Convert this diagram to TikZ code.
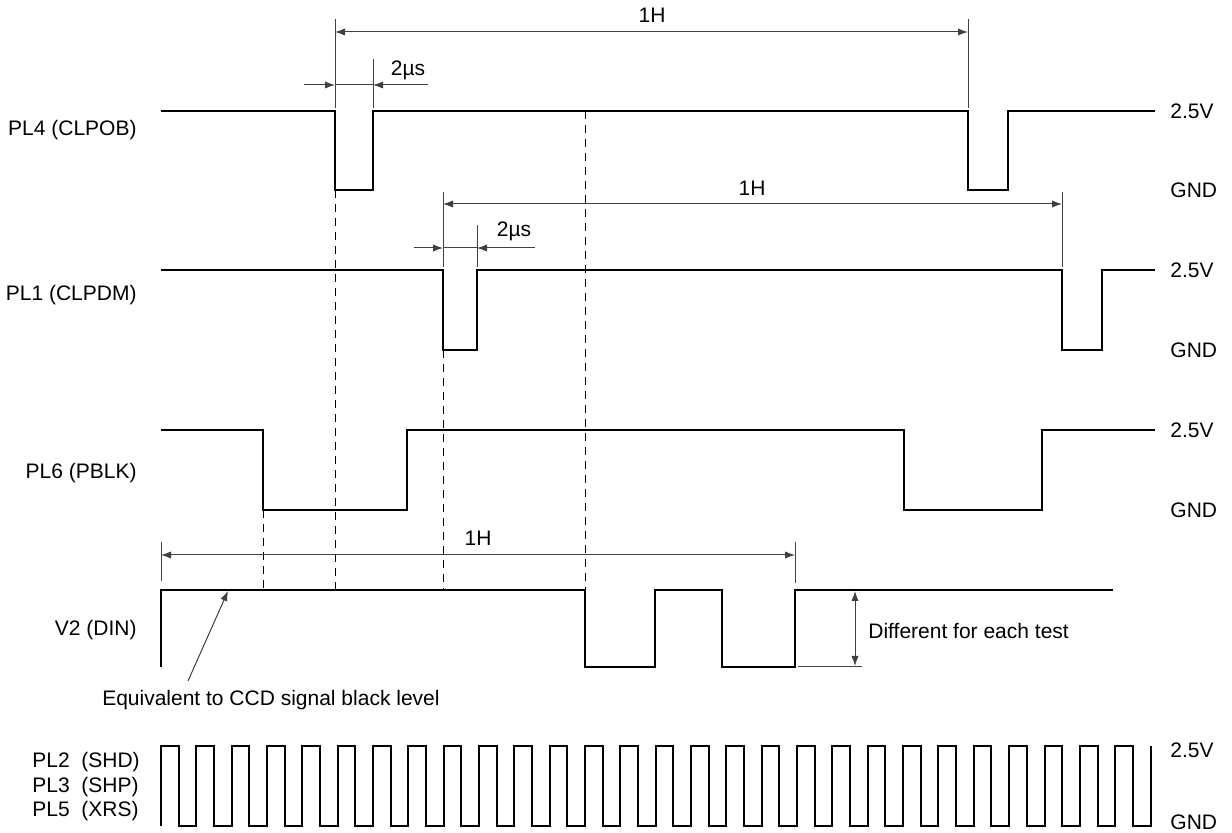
\documentclass[tikz,border=0pt]{standalone}
\usepackage{fontspec}
\setmainfont{Liberation Sans}
\usetikzlibrary{arrows.meta}
\begin{document}
\begin{tikzpicture}[x=0.5pt, y=-0.5pt, >={Latex[length=5pt,width=3.6pt]},
  sig/.style={line width=1pt, line join=miter},
  dim/.style={line width=0.5pt, black!75},
  guide/.style={line width=0.5pt, dash pattern=on 4pt off 3pt},
  lbl/.style={font=\fontsize{10.5}{12}\selectfont, inner sep=0pt}]
\useasboundingbox (0,0) rectangle (1232,833);

% signal names
\node[lbl, anchor=east] (npl4) at (137,130) {PL4 (CLPOB)};
\node[lbl, anchor=east] (npl1) at (137,295) {PL1 (CLPDM)};
\node[lbl, anchor=east] (npl6) at (137,473) {PL6 (PBLK)};
\node[lbl, anchor=east] (nv2) at (137,630) {V2 (DIN)};
\node[lbl, anchor=west] (npl2) at (32,762) {PL2\ \ (SHD)};
\node[lbl, anchor=west] (npl3) at (32,787) {PL3\ \ (SHP)};
\node[lbl, anchor=west] (npl5) at (32,811) {PL5\ \ (XRS)};

% levels
\foreach \y/\n in {111/a, 270/b, 430/c, 750/d}
  \node[lbl, anchor=west] (hi\n) at (1170,\y) {2.5V};
\foreach \y/\n in {190/a, 350/b, 510/c, 822/d}
  \node[lbl, anchor=west] (lo\n) at (1170,\y) {GND};

% waveforms
\draw[sig] (161,111) -- (335,111) -- (335,190) -- (373,190) -- (373,111)
  -- (968,111) -- (968,190) -- (1008,190) -- (1008,111) -- (1155,111);
\draw[sig] (161,270) -- (443,270) -- (443,350) -- (477,350) -- (477,270)
  -- (1062,270) -- (1062,350) -- (1102,350) -- (1102,270) -- (1155,270);
\draw[sig] (161,430) -- (263,430) -- (263,510) -- (407,510) -- (407,430)
  -- (904,430) -- (904,510) -- (1042,510) -- (1042,430) -- (1155,430);
\draw[sig] (161,667) -- (161,590) -- (585,590) -- (585,667) -- (655,667)
  -- (655,590) -- (722,590) -- (722,667) -- (795,667) -- (795,590) -- (1113,590);
\draw[sig] (161,826) \foreach \k in {0,...,27} {
  -- ++(0,-80) -- ++(17.67,0) -- ++(0,80) -- ++(17.67,0) } -- ++(0,-80);

% guide lines
\draw[guide] (335,190) -- (335,590);
\draw[guide] (443,350) -- (443,590);
\draw[guide] (263,510) -- (263,590);
\draw[guide] (585,111) -- (585,590);

% 1H, PL4
\draw[dim] (335,19) -- (335,108);
\draw[dim] (968,19) -- (968,108);
\draw[dim, <->] (335,32) -- (968,32);
\node[lbl] (ha) at (652,15) {1H};
% 2us, PL4
\draw[dim] (373,59) -- (373,108);
\draw[dim] (335,85) -- (373,85);
\draw[dim, ->] (304,85) -- (335,85);
\draw[dim, ->] (428,85) -- (373,85);
\node[lbl] (ta) at (408,70) {2µs};

% 1H, PL1
\draw[dim] (443,192) -- (443,267);
\draw[dim] (1062,192) -- (1062,267);
\draw[dim, <->] (443,204) -- (1062,204);
\node[lbl] (hb) at (752,188) {1H};
% 2us, PL1
\draw[dim] (477,225) -- (477,267);
\draw[dim] (443,248) -- (477,248);
\draw[dim, ->] (414,248) -- (443,248);
\draw[dim, ->] (535,248) -- (477,248);
\node[lbl] (tb) at (514,231) {2µs};

% 1H, V2
\draw[dim] (161,542) -- (161,581);
\draw[dim] (795,542) -- (795,583);
\draw[dim, <->] (161,555) -- (795,555);
\node[lbl] (hc) at (478,538) {1H};

% amplitude
\draw[dim] (798,667) -- (862,667);
\draw[dim, <->] (855,591) -- (855,666);
\node[lbl, anchor=west] (diff) at (868,631) {Different for each test};

% black level note
\node[lbl, anchor=east] (blk) at (440,700) {Equivalent to CCD signal black level};
\coordinate (blktip) at (228,591);
\draw[dim, ->] (188,681) -- (blktip);
\end{tikzpicture}
\end{document}
